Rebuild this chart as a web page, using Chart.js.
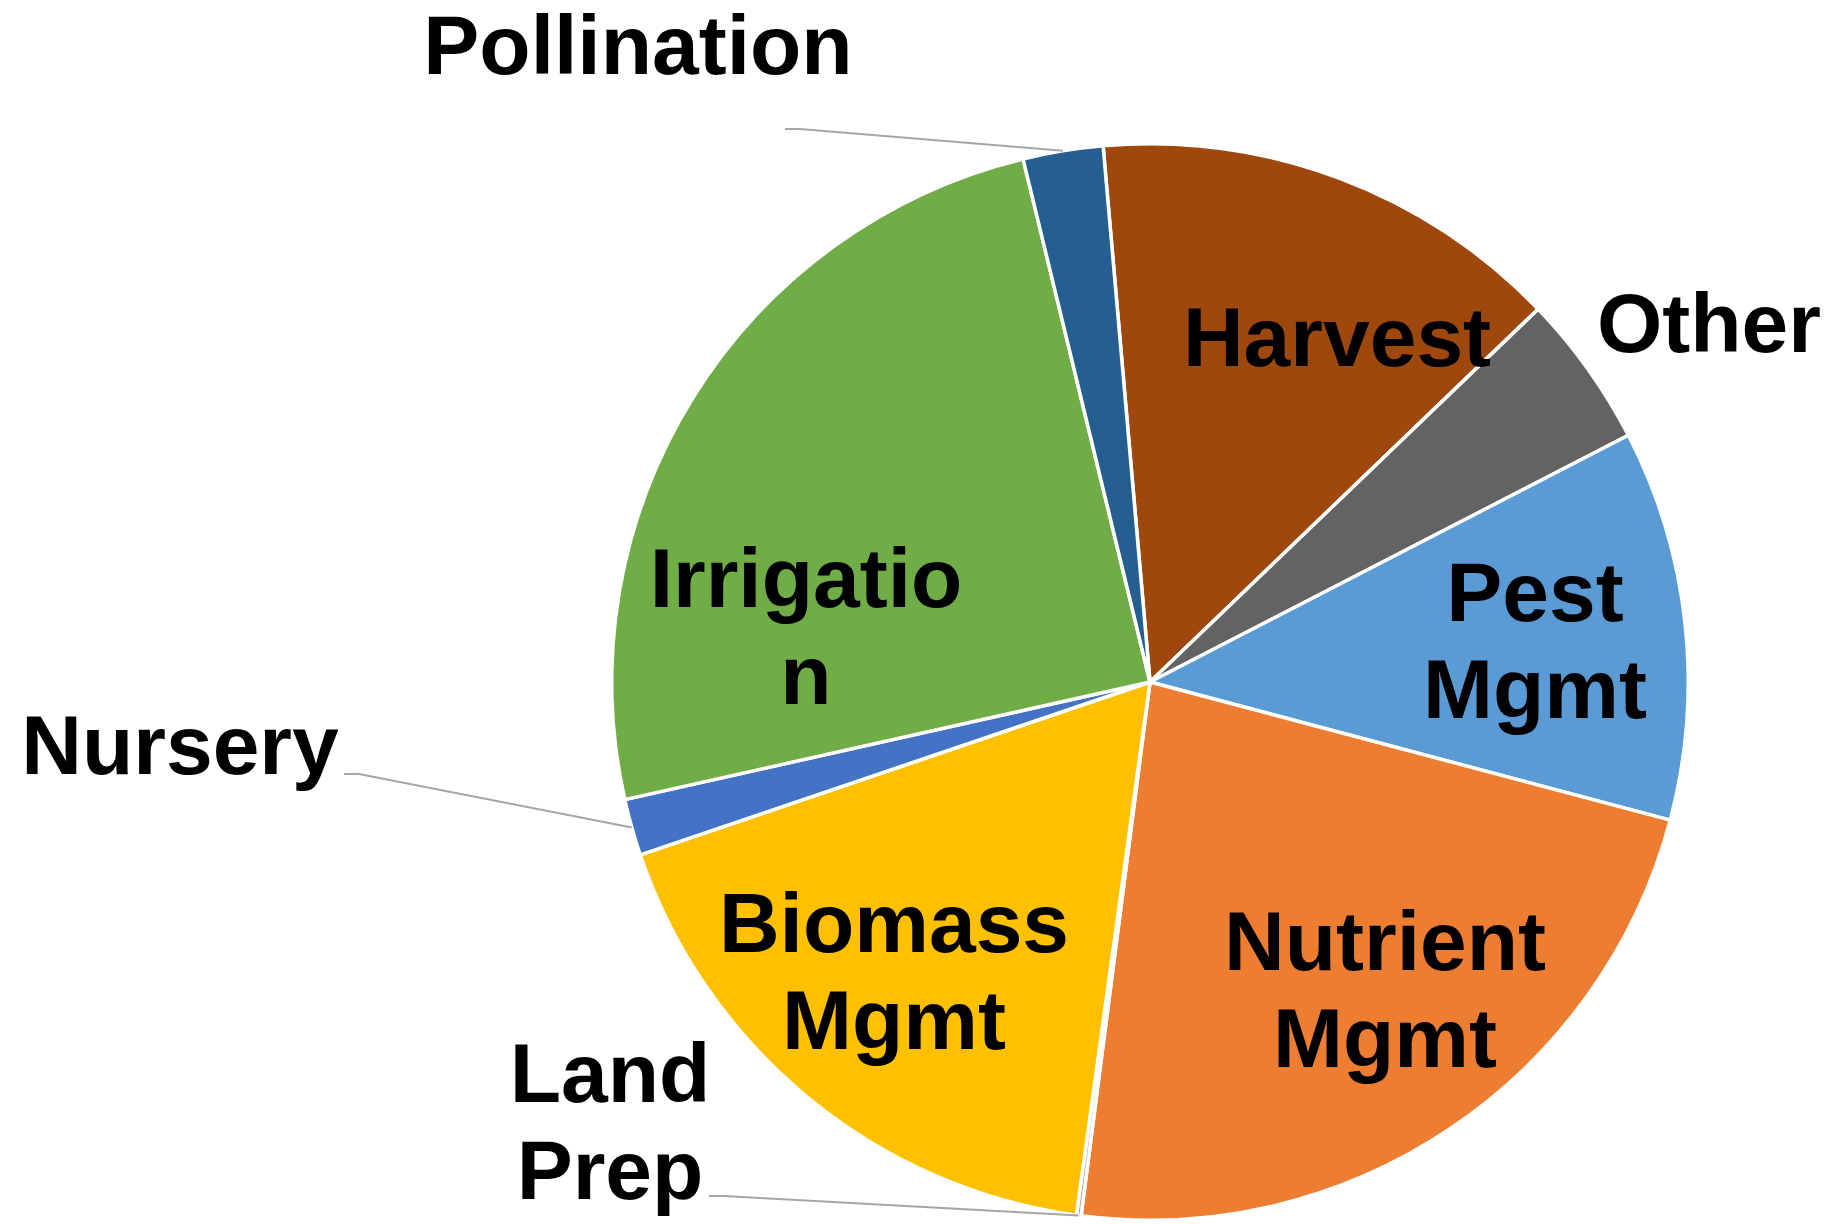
<!DOCTYPE html>
<html>
<head>
<meta charset="utf-8">
<script src="https://cdn.jsdelivr.net/npm/chart.js@4/dist/chart.umd.min.js"></script>
<style>
  body { margin: 0; background: #fff; }
  canvas { display: block; }
</style>
</head>
<body>
<canvas id="pieChart" width="1833" height="1224"></canvas>
<script>
// categories and shares (percent)
const categorias = ["Harvest", "Other", "Pest Mgmt", "Nutrient Mgmt", "Land Prep",
    "Biomass Mgmt", "Nursery", "Irrigation", "Pollination"];
const valores = [14.2, 4.6, 11.7, 22.9, 0.14, 17.6, 1.7, 24.7, 2.4];
// text as it is broken into lines in the picture
const etiquetas = [["Harvest"], ["Other"], ["Pest", "Mgmt"], ["Nutrient", "Mgmt"], ["Land", "Prep"],
    ["Biomass", "Mgmt"], ["Nursery"], ["Irrigatio", "n"], ["Pollination"]];
const colores = ["#9E480E", "#636363", "#5B9BD5", "#ED7D31", "#A5A5A5",
    "#FFC000", "#4472C4", "#70AD47", "#255E91"];

// label anchor (text centre x, first baseline y) as offset from the pie centre;
// lider = start of the leader line for labels placed outside the pie
const colocacion = [
    { dx: 187, dy: -316 },
    { dx: 559, dy: -330 },
    { dx: 385, dy: -61 },
    { dx: 235, dy: 288 },
    { dx: -540, dy: 420, lider: [-441, 514] },
    { dx: -256, dy: 270 },
    { dx: -970, dy: 92, lider: [-806, 92] },
    { dx: -344, dy: -75 },
    { dx: -512, dy: -608, lider: [-365, -553] },
];

const etiquetasPlugin = {
    id: "etiquetas",
    afterDatasetsDraw(chart) {
        const ctx = chart.ctx;
        const arcs = chart.getDatasetMeta(0).data;
        ctx.save();
        arcs.forEach((arc, i) => {
            const p = colocacion[i];
            const cx = arc.x, cy = arc.y;
            if (p.lider) {
                const mid = (arc.startAngle + arc.endAngle) / 2;
                const ex = cx + Math.cos(mid) * arc.outerRadius;
                const ey = cy + Math.sin(mid) * arc.outerRadius;
                const sx = cx + p.lider[0], sy = cy + p.lider[1];
                ctx.beginPath();
                ctx.moveTo(sx, sy);
                ctx.lineTo(sx + 15, sy);
                ctx.lineTo(ex, ey);
                ctx.strokeStyle = "#A6A6A6";
                ctx.lineWidth = 2;
                ctx.stroke();
            }
            ctx.fillStyle = "#000";
            ctx.font = "bold 84px 'Liberation Sans', Arial, sans-serif";
            ctx.textAlign = "center";
            ctx.textBaseline = "alphabetic";
            etiquetas[i].forEach((linea, k) => {
                ctx.fillText(linea, cx + p.dx, cy + p.dy + k * 97);
            });
        });
        ctx.restore();
    },
};

let ctx = document.getElementById("pieChart").getContext("2d");
let myChart = new Chart(ctx, {
    type: "pie",
    data: {
        labels: categorias,
        datasets: [
            {
                data: valores,
                backgroundColor: colores,
                borderColor: "#ffffff",
                borderWidth: 3.5,
            },
        ],
    },
    options: {
        responsive: false,
        animation: false,
        rotation: -5,
        layout: { padding: { left: 610, right: 143, top: 141, bottom: 1 } },
        plugins: {
            legend: { display: false },
            tooltip: { enabled: false },
        },
    },
    plugins: [etiquetasPlugin],
});
</script>
</body>
</html>
